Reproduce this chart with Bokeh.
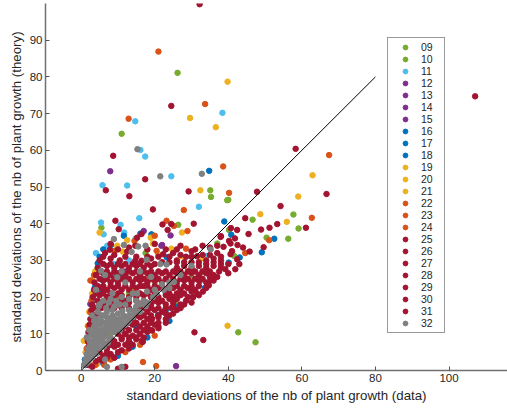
from bokeh.plotting import figure
from bokeh.models import Range1d, Legend, LegendItem, FixedTicker
from bokeh.embed import file_html
from bokeh.resources import INLINE

# values: x = std of data, y = std of theory
x09 = [26.2, 11, 35.1, 39.7, 57.7, 40.2, 50.4, 42.7, 5.5, 20, 13, 26]
y09 = [81.1, 64.5, 49.1, 46.4, 42.5, 38.3, 36.2, 10.4, 38.9, 24, 21, 18]
x10 = [35.3, 46.6, 59.1, 37, 56.3, 41.6, 47.4, 26.4, 17.5, 30, 8, 33, 40]
y10 = [47.3, 41.1, 38.7, 34.6, 35.9, 31.2, 7.7, 39.7, 32, 25, 10, 27, 46.5]
x11 = [5.8, 12.5, 14.7, 16.1, 17.4, 24.5, 38.4, 32, 15.8, 5.4, 6.1, 10.7, 11.7,
       7.1, 14.8, 34.2, 1.9, 6.1, 4.5, 3, 13, 9, 2, 1.5, 35, 23, 1.5, 2.8, 4]
y11 = [50.5, 50.4, 67.9, 60.1, 58.3, 52.9, 70.2, 44.6, 41.5, 40.3, 37.1, 39.7, 37.6,
       34, 35.9, 31.2, 5.9, 1.8, 28, 20, 30, 29, 10, 3, 26, 21, 8, 18, 32]
x12 = [7.9, 24.3, 1.5, 9]
y12 = [54.3, 36.8, 2, 3.5]
x13 = [22, 17, 2.5]
y13 = [34.2, 38, 18.1]
x14 = [30.3, 25.8, 12]
y14 = [20, 1.2, 27]
x15 = [32.2, 21.8, 8]
y15 = [24.3, 34, 4]
x16 = [4.5, 11.6, 5.7, 3.7, 13.2, 27, 34.8, 1.2, 1, 2.5, 3.2, 4, 5, 6]
y16 = [29.2, 36.7, 24.7, 22.6, 7.5, 17.2, 54.4, 1.5, 3, 14, 19, 27, 31, 33]
x17 = [38.9, 40.1, 43.1, 23, 20.9, 16.1, 9.8, 40.8, 8.1, 10, 14, 18, 24]
y17 = [40.6, 29.4, 30.8, 16.5, 15.1, 37.3, 25.8, 37, 34.2, 4, 6.5, 9, 13.5]
x18 = [49.1, 52.5, 33.6, 25.6, 11, 5.6, 19.1, 23.3, 6, 3, 15, 30]
y18 = [32.2, 35.9, 22.5, 17.4, 26.5, 21.6, 37.1, 30.8, 2, 10, 12, 22]
x19 = [29.6, 39.8, 36.6, 62.9, 32.4, 59, 48.7, 55.9]
y19 = [68.8, 78.7, 66.3, 53.2, 49.1, 47.4, 42.6, 40.5]
x20 = [39.8, 5, 12.5, 27.4, 24.5, 3, 1.8, 0.7, 4.3, 20.2, 1.2, 2.2, 3, 3.8]
y20 = [12.2, 37.6, 35.5, 37.6, 33.2, 24.6, 12.2, 8.1, 1.8, 20.7, 5, 16, 21, 27]
x21 = [18.9, 19.5, 9.8, 11.3, 20.9, 27.1, 33.2, 41, 14, 2.5, 8, 29]
y21 = [36.2, 34.6, 34, 32.4, 31.7, 31.1, 30.6, 32.5, 22, 4, 12, 27]
x22 = [21, 12.9, 33.7, 67.4, 38.6, 40.2, 27.9, 62.7]
y22 = [86.9, 68.6, 72.6, 58.7, 55.6, 48.4, 43.7, 41.6]
x23 = [23.2, 25.2, 28.9, 51.1, 44.6, 36, 14.5, 20.5, 28.5, 20, 1.5, 2, 2.8, 3.5]
y23 = [40.8, 39.4, 38, 35.5, 32, 25.8, 35.3, 32.6, 33.2, 36.7, 6, 12, 19, 26]
x24 = [16.8, 20.4, 3.9, 6.3, 9.1, 2.5, 2.5, 3.2, 6.2, 12, 18, 10, 8, 12, 16, 20]
y24 = [2.3, 1.2, 1.5, 1.5, 32.6, 15.8, 24.5, 1.4, 2.3, 10, 25, 20, 3, 5, 7, 9.5]
x25 = [2, 4, 5.7, 3, 2.5, 6, 8, 9, 2, 7, 9, 11, 12.9, 1.8, 9, 11, 13, 15,
       16.6, 16.7, 10, 12, 30.8, 33.2, 5, 7, 5, 7, 10, 13, 8, 10, 12, 14,
       11, 13, 15, 17]
y25 = [1.5, 2.5, 2.7, 1, 4, 4, 4.5, 3.5, 6.5, 6, 6.5, 5.5, 7.7, 8, 8, 8.5, 8, 8.5,
       8.2, 7.8, 0.5, 1, 10.4, 8.3, 3, 3.5, 5, 5, 5, 6, 7, 7, 7, 7,
       9, 9, 9, 9]
x26 = [2, 10, 12, 14, 16, 18, 19.3, 2.3, 3, 12, 14, 16, 18, 20, 21, 2.6, 3.5, 14,
       16, 18, 19.3, 21, 23, 24, 2.8, 4, 16, 18, 20, 22, 24.5, 26, 11, 13, 15,
       17, 19, 21, 13, 15, 17, 19, 21, 23, 15, 17, 19, 21, 23, 25, 4.5, 5.5,
       8, 3.8]
y26 = [10.5, 10, 10, 9.5, 10, 10.5, 10.9, 12.5, 13, 12, 12.5, 12, 12, 12.5, 12, 14, 15, 14,
       14.5, 14, 14.1, 14.5, 14, 15, 16.5, 17, 16.5, 16, 16.5, 16, 17, 16.5, 11, 11, 11,
       11, 11, 11.5, 13, 13, 13, 13, 13, 13, 15, 15, 15, 15, 15.5, 15.5, 15.5, 17,
       17, 13.5]
x27 = [3, 4.5, 6, 8, 10, 13, 16, 19, 21, 23, 25, 27, 28.5, 3.2, 5, 7, 9, 11, 13,
       15, 17, 19, 21, 23, 25, 27, 29, 30.4, 31.5, 12, 14, 18, 22, 24, 26, 6,
       9, 11, 13, 15, 17, 19, 21, 23, 25, 27, 7, 9, 11, 15, 17, 20, 24, 26,
       28, 30, 4, 8, 10, 16, 20, 28, 30, 32]
y27 = [18, 19, 18, 18, 18, 18.5, 18, 18, 18.5, 18, 18.5, 18, 19, 20, 20.5, 20, 20, 20.5, 20,
       20, 20.5, 20, 20, 20.5, 20, 20.5, 20, 19.9, 21, 19, 21, 21, 19, 21, 21, 21,
       17, 17, 17, 17, 17, 17, 17, 17, 17.5, 17, 19, 19, 19, 19, 19, 19, 19.5, 19.5,
       18, 18.5, 21, 21, 21, 21, 21, 21, 21.5, 20.5]
x28 = [3.5, 5.5, 7, 9, 11, 13, 15, 17, 19, 21, 23, 25, 27, 29, 31, 33.1, 3.6, 6, 8,
       10, 12, 14, 16, 18, 20, 22, 26, 28, 30, 32, 34, 36, 34.7, 35.1, 20, 28, 10, 24,
       4.5, 6, 8, 12, 14, 16, 18, 22, 26, 30, 32, 34, 5, 7, 9, 11, 13, 15,
       17, 19, 21, 23, 25, 27, 29, 31, 33, 35, 37]
y28 = [22, 22.5, 22, 22.5, 22, 22, 22.5, 23, 22, 22.5, 22, 22.5, 22, 22.5, 22, 21.5, 24, 24.5, 24,
       24, 24.5, 24, 24.5, 24, 24.5, 24, 24, 24.5, 24, 24.5, 24, 24.5, 23.2, 24.5, 23, 23, 23, 23,
       23, 23, 23, 23, 23, 23, 23, 23, 23, 23, 23, 22.5, 25, 25, 25, 25, 25, 25,
       25, 25, 25, 25, 25, 25, 25, 25, 25, 25.5, 25.5]
x29 = [4, 6, 8, 10, 12, 14, 16, 18, 20, 22, 24, 26, 28, 30, 32, 34, 36, 37.5, 4.5,
       7, 9, 11, 13, 15, 17, 19, 22, 24, 26, 28, 30, 32, 34, 36, 38, 39.2, 41.9,
       5, 7, 9, 11, 13, 15, 17, 19, 21, 23, 25, 27, 29, 31, 33, 35, 40,
       6, 8, 10, 12, 14, 16, 18, 20, 26, 28, 30, 32, 34, 36, 38, 40]
y29 = [26, 26.5, 26, 26.5, 26, 26.5, 26, 26.5, 26, 26.5, 26, 26.5, 26, 26.5, 26, 26.5, 26, 27, 28,
       28.5, 28, 28.5, 28, 28.5, 28, 28.5, 29.5, 29.5, 28, 28.5, 28, 28.5, 28, 28.5, 28, 27.6, 27.6,
       27, 27, 27, 27, 27, 27, 27, 27, 27, 27, 27, 27, 27, 27, 27, 27, 26.5,
       29, 29, 29, 29, 29, 29, 29, 29, 29.5, 29.5, 29.5, 29.5, 29, 29.5, 29, 29]
x30 = [5, 8, 10.5, 14.7, 16.4, 19, 26, 28.5, 31.5, 34, 36, 38, 42.4, 40.6, 6.5, 7.8,
       12.5, 22.3, 25, 30, 37, 41, 45.8, 8, 14.7, 20, 27, 33, 38.7, 42.5, 40.2, 40.6, 49.6,
       6, 9, 12, 15, 18, 21, 24, 27, 30, 33, 35, 38, 43,
       10, 13, 18, 23, 26, 31, 35, 37, 44]
y30 = [30, 30.5, 30, 29.9, 29.9, 30.5, 30, 31, 31.1, 30, 30.5, 30, 30.3, 31.7, 32, 32.9,
       32.4, 31.7, 32, 32.5, 32, 32.5, 32.4, 34.5, 34, 34.5, 34, 34, 33.7, 34.2, 35.3, 34.6, 33.6,
       31, 31.5, 31, 31, 31, 31, 31, 31.5, 31, 31.5, 31.5, 31, 29,
       33, 33.5, 33, 33, 33, 33, 33.5, 34, 33.5]
x31 = [9.3, 10.2, 15.2, 16.4, 22.1, 23.5, 30.6, 38, 40.7, 42.4, 45.5, 48.9, 51.2, 53.3,
       61.1, 44.6, 24.5, 19.5, 13.1, 6.7, 8.7, 17.4, 24.5, 29.2, 32.2, 47.8, 54.2, 58.3,
       66.7, 107.1, 16.7, 37.9, 41.8]
y31 = [40.8, 38.5, 36.2, 37.2, 39.8, 38.3, 40, 36.6, 38.8, 38.3, 37.2, 38.4, 38.9, 39.9,
       38.9, 41.5, 39.9, 43.9, 47.5, 49.1, 58.5, 52.1, 72.1, 48.8, 99.8, 48.7, 44.8, 60.4,
       48.1, 74.7, 7.8, 36.4, 36]
x32 = [0.8, 1.2, 1.5, 1.8, 2, 2.3, 2.5, 2.8, 3, 3.2, 3.5, 3.5, 3.8, 4, 4.2, 4.3, 4.5,
       5, 5, 5.2, 5.5, 5.8, 6, 6.2, 6.5, 6.8, 7, 7.2, 7.5, 7.8, 8, 8.3, 8.5, 9, 9.2, 9.5,
       10, 10.5, 11, 11.2, 12, 12.5, 13, 14.3, 15, 16, 17, 18, 19.5, 2.2, 1.5, 3, 4.8, 6,
       7.5, 9.5, 8.5, 4, 11, 9.8, 6.5, 5.4, 12, 14, 15.2, 17.9, 20, 22, 24, 25.2, 21.5,
       23.2, 17.8, 11.6, 13.7, 15.5, 17.5, 8.9, 35.2, 32.8, 21.5, 15.3, 11, 7, 6.5, 27, 30,
       19, 16,
       1, 1.5, 2.5, 2.2, 3, 3.5, 4.5, 4.2, 5, 5.5, 6, 6.5, 7, 7, 8, 8, 8.5, 9.5, 10,
       10.5, 11.5, 12, 13, 14, 15, 16, 17.5, 3, 3.5, 2.5, 4, 5.5, 6, 7, 1.8, 2.8, 4, 5,
       6, 7.5, 9, 10, 11, 12, 13, 14, 4.5, 3.5, 5, 6.8, 8, 9, 10.5, 11, 13, 15, 20.5,
       22.5, 24]
y32 = [1.5, 3, 4.5, 6, 2.5, 8, 5, 10, 3.5, 7, 12, 5.5, 9, 4.5, 14, 11, 7,
       6, 9.5, 12.5, 15, 8, 11, 6.5, 13, 9.5, 16, 7.5, 11.5, 14, 9, 12.5, 16.5, 10.5, 14, 12,
       15.5, 11, 13.5, 16.3, 18, 13, 15, 16.3, 17.5, 16, 19, 18.5, 20, 11, 9, 15, 17.5, 19,
       18.5, 19, 21, 22, 27, 25.4, 26, 27.2, 24, 21, 21, 21.5, 22, 23.5, 24, 24.1, 29,
       28.9, 30.2, 34.2, 32.3, 33.8, 34, 35.8, 33, 53.6, 52.9, 60.3, 1, 1, 3, 26, 28.5,
       25.5, 27,
       2, 2, 3.5, 5, 6, 8, 10, 9, 11, 10.5, 9, 11.5, 10, 13, 11, 13.5, 15, 13.5, 12,
       14, 15, 14.5, 16.5, 15, 16, 18, 17.5, 9.5, 10.5, 7, 12.5, 13.5, 15, 14.5, 4, 4.5, 6, 8,
       7.5, 9, 11, 13, 12, 12.5, 13.5, 14.5, 16, 13.5, 18, 17, 19.5, 17.5, 18, 20, 19.5, 19, 21,
       22, 22.5]

series = ["09", "10", "11", "12", "13", "14", "15", "16", "17", "18", "19", "20",
          "21", "22", "23", "24", "25", "26", "27", "28", "29", "30", "31", "32"]
xs = [x09, x10, x11, x12, x13, x14, x15, x16, x17, x18, x19, x20,
      x21, x22, x23, x24, x25, x26, x27, x28, x29, x30, x31, x32]
ys = [y09, y10, y11, y12, y13, y14, y15, y16, y17, y18, y19, y20,
      y21, y22, y23, y24, y25, y26, y27, y28, y29, y30, y31, y32]
colors = ["#77AC30", "#77AC30", "#4DBEEE", "#7E2F8E", "#7E2F8E", "#7E2F8E", "#7E2F8E",
          "#0072BD", "#0072BD", "#0072BD", "#EDB120", "#EDB120", "#EDB120",
          "#D95319", "#D95319", "#D95319", "#A2142F", "#A2142F", "#A2142F", "#A2142F",
          "#A2142F", "#A2142F", "#A2142F", "#808080"]

diag = [0, 80]
x_ticks = [0, 20, 40, 60, 80, 100]
y_ticks = [0, 10, 20, 30, 40, 50, 60, 70, 80, 90]

FONT = "Liberation Sans"

p = figure(width=507, height=411, output_backend="svg", toolbar_location=None, tools="",
           x_range=Range1d(-9.7, 115.9), y_range=Range1d(0, 100),
           min_border_left=45, min_border_right=0, min_border_top=3, min_border_bottom=41)
p.outline_line_color = None
p.xgrid.grid_line_color = None
p.ygrid.grid_line_color = None

items = []
for name, xv, yv, c in zip(series, xs, ys, colors):
    r = p.scatter(xv, yv, size=5.5, fill_color=c, line_color=c)
    items.append(LegendItem(label=name, renderers=[r]))

p.line(diag, diag, line_color="black", line_width=1)

p.xaxis.axis_label = "standard deviations of the nb of plant growth (data)"
p.yaxis.axis_label = "standard deviations of the nb of plant growth (theory)"
p.xaxis.ticker = FixedTicker(ticks=x_ticks)
p.yaxis.ticker = FixedTicker(ticks=y_ticks)
for ax in (p.xaxis[0], p.yaxis[0]):
    ax.axis_line_color = "#707070"
    ax.axis_line_width = 1.5
    ax.major_tick_line_color = "#555555"
    ax.major_tick_in = 4
    ax.major_tick_out = 0
    ax.minor_tick_line_color = None
    ax.major_label_text_font = FONT
    ax.major_label_text_font_size = "11.5px"
    ax.major_label_text_color = "#262626"
    ax.axis_label_text_font = FONT
    ax.axis_label_text_font_size = "13.3px"
    ax.axis_label_text_font_style = "normal"
    ax.axis_label_text_color = "#262626"
    ax.major_label_standoff = 3
    ax.axis_label_standoff = 3

legend = Legend(items=items, location=(342, 37), orientation="vertical")
legend.border_line_color = "#333333"
legend.border_line_width = 1
legend.background_fill_color = "white"
legend.background_fill_alpha = 1
legend.label_text_font = FONT
legend.label_text_font_size = "10.5px"
legend.label_text_color = "#262626"
legend.label_height = 12
legend.glyph_height = 12
legend.glyph_width = 28
legend.spacing = 0
legend.padding = 3
legend.margin = 0
legend.label_standoff = 2
p.add_layout(legend)

open("out.html", "w").write(file_html(p, INLINE))
